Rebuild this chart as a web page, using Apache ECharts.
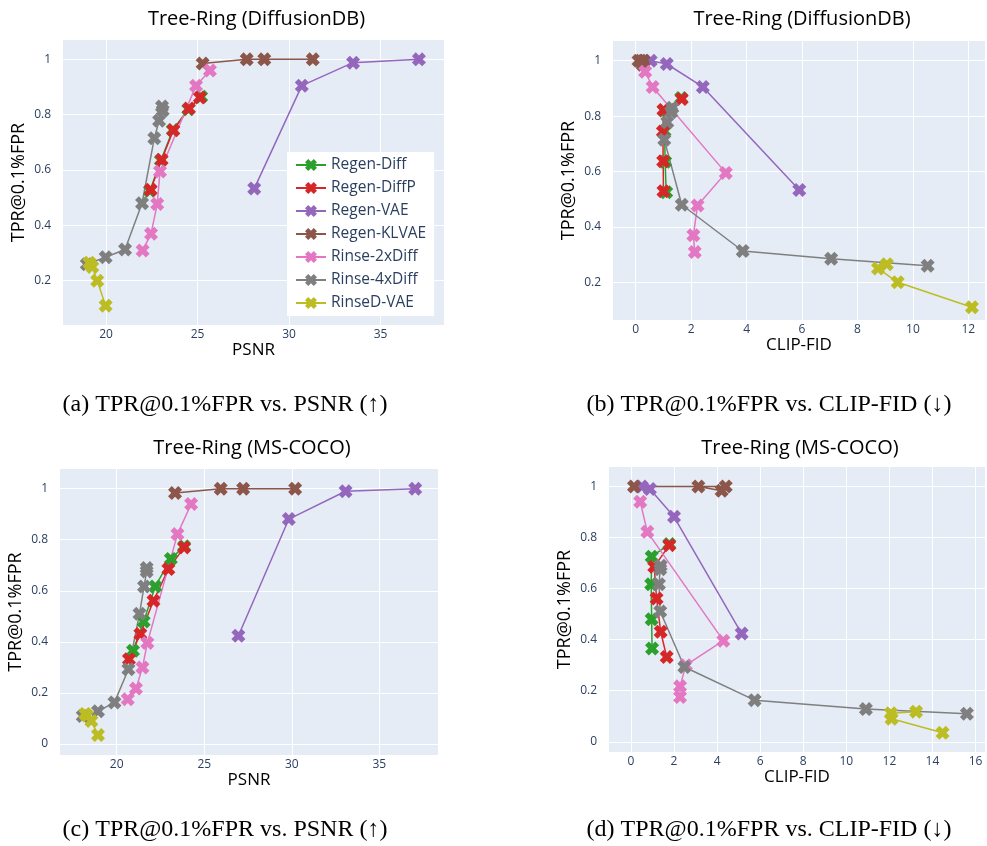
<!DOCTYPE html>
<html>
<head>
<meta charset="utf-8">
<script src="https://cdn.jsdelivr.net/npm/echarts@6/dist/echarts.min.js"></script>
<style>
  html, body { margin: 0; padding: 0; background: #fff; }
  #chart { width: 987px; height: 846px; }
</style>
</head>
<body>
<div id="chart"></div>
<script>
// methods (same order in every panel)
var methods = ['Regen-Diff', 'Regen-DiffP', 'Regen-VAE', 'Regen-KLVAE', 'Rinse-2xDiff', 'Rinse-4xDiff', 'RinseD-VAE'];

// DiffusionDB: TPR@0.1%FPR, PSNR, CLIP-FID (one list per method)
var dbTpr = [
    [0.865, 0.82, 0.745, 0.635, 0.525],
    [0.862, 0.822, 0.744, 0.637, 0.529],
    [0.533, 0.905, 0.988, 1.0],
    [0.985, 1.0, 1.0, 1.0],
    [0.96, 0.905, 0.595, 0.477, 0.37, 0.309],
    [0.83, 0.815, 0.778, 0.715, 0.48, 0.313, 0.285, 0.26],
    [0.265, 0.25, 0.2, 0.11]
];
var dbPsnr = [
    [25.2, 24.5, 23.65, 23.0, 22.4],
    [25.13, 24.53, 23.68, 23.04, 22.44],
    [28.1, 30.7, 33.5, 37.1],
    [25.28, 27.69, 28.65, 31.3],
    [25.68, 24.92, 22.95, 22.8, 22.46, 22.0],
    [23.06, 23.1, 22.9, 22.64, 21.97, 21.04, 19.98, 18.95],
    [19.09, 19.25, 19.52, 19.98]
];
var dbFid = [
    [1.64, 1.02, 1.04, 1.06, 1.1],
    [1.66, 1.0, 0.98, 0.99, 1.0],
    [5.9, 2.42, 1.12, 0.54],
    [0.25, 0.28, 0.18, 0.1],
    [0.34, 0.61, 3.25, 2.23, 2.08, 2.13],
    [1.32, 1.28, 1.14, 1.03, 1.66, 3.86, 7.05, 10.53],
    [9.06, 8.74, 9.45, 12.13]
];

// MS-COCO
var cocoTpr = [
    [0.774, 0.725, 0.617, 0.48, 0.365],
    [0.77, 0.685, 0.561, 0.431, 0.332],
    [0.424, 0.881, 0.99, 1.0],
    [0.983, 1.0, 1.0, 1.0],
    [0.94, 0.822, 0.396, 0.3, 0.217, 0.175],
    [0.689, 0.676, 0.617, 0.51, 0.293, 0.163, 0.128, 0.11],
    [0.118, 0.112, 0.09, 0.035]
];
var cocoPsnr = [
    [23.85, 23.09, 22.2, 21.54, 20.93],
    [23.85, 22.95, 22.1, 21.35, 20.7],
    [26.95, 29.83, 33.07, 37.05],
    [23.33, 25.94, 27.22, 30.19],
    [24.25, 23.47, 21.75, 21.47, 21.1, 20.63],
    [21.71, 21.71, 21.56, 21.3, 20.67, 19.87, 18.93, 18.06],
    [18.2, 18.3, 18.55, 18.93]
];
var cocoFid = [
    [1.78, 0.96, 0.94, 0.96, 0.98],
    [1.78, 1.08, 1.19, 1.38, 1.66],
    [5.14, 2.0, 0.88, 0.5],
    [4.21, 3.13, 4.4, 0.14],
    [0.43, 0.76, 4.29, 2.55, 2.28, 2.28],
    [1.38, 1.36, 1.3, 1.36, 2.48, 5.74, 10.91, 15.6],
    [13.24, 12.07, 12.1, 14.47]
];

// tick labels
var psnrTicks = [20, 25, 30, 35];
var dbFidTicks = [0, 2, 4, 6, 8, 10, 12];
var cocoFidTicks = [0, 2, 4, 6, 8, 10, 12, 14, 16];
var dbTprTicks = [0.2, 0.4, 0.6, 0.8, 1];
var cocoTprTicks = [0, 0.2, 0.4, 0.6, 0.8, 1];

var colors = ['#2ca02c', '#d62728', '#9467bd', '#8c564b', '#e377c2', '#7f7f7f', '#bcbd22'];
// plotly-like thick "x" marker
var xMark = 'path://M2.7,0L5,2.3L7.3,0L10,2.7L7.7,5L10,7.3L7.3,10L5,7.7L2.7,10L0,7.3L2.3,5L0,2.7Z';
var tickColor = '#2a3f5f';
var font = 'Open Sans';

var chart = echarts.init(document.getElementById('chart'));

// 4 panels: grid box + axis ranges
var panels = [
    { grid: [63, 40, 381, 285], xr: [17.65, 38.47], yr: [0.04, 1.07], xt: psnrTicks, yt: dbTprTicks, xn: 'PSNR', tpr: dbTpr, xs: dbPsnr, title: 'Tree-Ring (DiffusionDB)' },
    { grid: [613, 41, 372, 279], xr: [-0.82, 12.6], yr: [0.064, 1.071], xt: dbFidTicks, yt: dbTprTicks, xn: 'CLIP-FID', tpr: dbTpr, xs: dbFid, title: 'Tree-Ring (DiffusionDB)' },
    { grid: [60, 469, 378, 286], xr: [16.76, 38.35], yr: [-0.043, 1.077], xt: psnrTicks, yt: cocoTprTicks, xn: 'PSNR', tpr: cocoTpr, xs: cocoPsnr, title: 'Tree-Ring (MS-COCO)' },
    { grid: [609, 467, 376, 285], xr: [-1.02, 16.44], yr: [-0.04, 1.076], xt: cocoFidTicks, yt: cocoTprTicks, xn: 'CLIP-FID', tpr: cocoTpr, xs: cocoFid, title: 'Tree-Ring (MS-COCO)' }
];

var grids = [], xAxes = [], yAxes = [], series = [], titles = [];
panels.forEach(function (p, k) {
    grids.push({
        left: p.grid[0], top: p.grid[1], width: p.grid[2], height: p.grid[3],
        show: true, backgroundColor: '#e5ecf6', borderWidth: 0, containLabel: false
    });
    xAxes.push({
        type: 'value', gridIndex: k, min: p.xr[0], max: p.xr[1],
        name: p.xn, nameLocation: 'middle', nameGap: 14,
        nameTextStyle: { fontFamily: font, fontSize: 17, color: '#000' },
        axisLine: { show: false },
        axisTick: { show: false, customValues: p.xt },
        axisLabel: { customValues: p.xt, color: tickColor, fontFamily: font, fontSize: 12, margin: 4 },
        splitLine: { show: true, lineStyle: { color: '#fff', width: 1 } }
    });
    yAxes.push({
        type: 'value', gridIndex: k, min: p.yr[0], max: p.yr[1],
        name: 'TPR@0.1%FPR', nameLocation: 'middle', nameGap: 35,
        nameTextStyle: { fontFamily: font, fontSize: 18, color: '#000' },
        axisLine: { show: false },
        axisTick: { show: false, customValues: p.yt },
        axisLabel: { customValues: p.yt, color: tickColor, fontFamily: font, fontSize: 12, margin: 12 },
        splitLine: { show: true, lineStyle: { color: '#fff', width: 1 } }
    });
    titles.push({
        text: p.title, left: p.grid[0] + p.grid[2] / 2 - 2, top: k >= 2 ? 433 : 4, textAlign: 'center',
        textStyle: { fontFamily: font, fontSize: 20, fontWeight: 'normal', color: '#000' }
    });
    methods.forEach(function (m, i) {
        var pts = [];
        p.tpr[i].forEach(function (t, j) { pts.push([p.xs[i][j], t]); });
        series.push({
            name: m, type: 'line', xAxisIndex: k, yAxisIndex: k,
            data: pts, symbol: xMark, symbolSize: 14,
            itemStyle: { color: colors[i] },
            lineStyle: { color: colors[i], width: 1.5 },
            emphasis: { disabled: true }
        });
    });
});

var capFont = '24px "Liberation Serif"';
var captions = [
    { text: '(a) TPR@0.1%FPR vs. PSNR (\u2191)', x: 225, y: 405 },
    { text: '(b) TPR@0.1%FPR vs. CLIP-FID (\u2193)', x: 769, y: 405 },
    { text: '(c) TPR@0.1%FPR vs. PSNR (\u2191)', x: 225, y: 830 },
    { text: '(d) TPR@0.1%FPR vs. CLIP-FID (\u2193)', x: 769, y: 830 }
];

var option = {
    animation: false,
    title: titles,
    grid: grids,
    xAxis: xAxes,
    yAxis: yAxes,
    legend: {
        data: methods,
        left: 287, top: 152,
        orient: 'vertical',
        backgroundColor: '#fff',
        padding: [5, 8, 5, 8],
        itemGap: 7,
        itemWidth: 30, itemHeight: 15,
        textStyle: { fontFamily: font, fontSize: 15.5, color: tickColor }
    },
    graphic: captions.map(function (c) {
        return {
            type: 'text', x: c.x, y: c.y,
            style: { text: c.text, font: capFont, fill: '#000', textAlign: 'center', textVerticalAlign: 'middle' }
        };
    }),
    series: series
};

chart.setOption(option);
</script>
</body>
</html>
